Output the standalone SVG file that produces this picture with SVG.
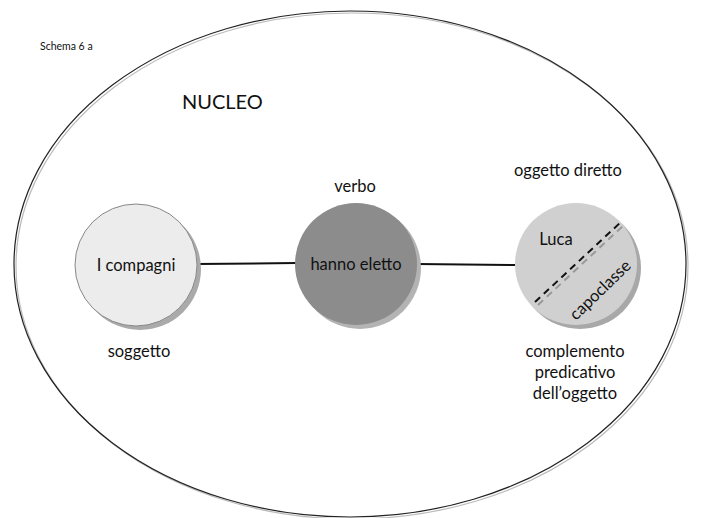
<svg xmlns="http://www.w3.org/2000/svg" width="701" height="518" viewBox="0 0 701 518">
  <style>
    text { font-family: Lato, "Open Sans", "Liberation Sans", sans-serif; fill: #111; }
    .lbl { font-size: 16.5px; text-anchor: middle; }
    .conn { stroke: #111; stroke-width: 2; fill: none; }
  </style>
  <rect width="701" height="518" fill="#fff"/>

  <!-- outer boundary of the nucleus -->
  <g id="nucleo">
    <ellipse cx="352" cy="266" rx="336" ry="253" fill="none" stroke="#bbb" stroke-width="1.2"/>
    <ellipse cx="350" cy="264" rx="336" ry="253" fill="none" stroke="#222" stroke-width="1.2"/>
    <text x="182" y="109" style="font-size:20px">NUCLEO</text>
  </g>

  <text x="40" y="50" style="font-size:10.5px">Schema  6 a</text>

  <!-- connectors -->
  <g id="connectors">
    <line class="conn" x1="197" y1="264" x2="296" y2="263"/>
    <line class="conn" x1="417" y1="264" x2="515" y2="265"/>
  </g>

  <g id="soggetto">
    <circle cx="140" cy="269" r="61" fill="#aaa"/>
    <circle cx="136" cy="265" r="61" fill="#ececec" stroke="#888" stroke-width="1"/>
    <text class="lbl" x="136" y="271">I compagni</text>
    <text class="lbl" x="139" y="357">soggetto</text>
  </g>

  <g id="verbo">
    <circle cx="360" cy="268" r="61" fill="#b3b3b3"/>
    <circle cx="356" cy="264" r="61" fill="#8c8c8c"/>
    <text class="lbl" x="356" y="270">hanno eletto</text>
    <text class="lbl" x="355" y="192">verbo</text>
  </g>

  <g id="oggetto">
    <circle cx="580" cy="268" r="61" fill="#a8a8a8"/>
    <circle cx="576" cy="264" r="61" fill="#d0d0d0"/>
    <line x1="538" y1="305" x2="625" y2="224" stroke="#999" stroke-width="2" stroke-dasharray="7,5"/>
    <line x1="535" y1="302" x2="622" y2="221" stroke="#111" stroke-width="2" stroke-dasharray="7,5"/>
    <text class="lbl" x="556" y="245">Luca</text>
    <text class="lbl" transform="translate(604,294) rotate(-44)">capoclasse</text>
    <text class="lbl" x="568" y="176">oggetto diretto</text>
  </g>

  <g id="predicativo">
    <text class="lbl" x="575" y="357">complemento</text>
    <text class="lbl" x="575" y="378">predicativo</text>
    <text class="lbl" x="575" y="399">dell’oggetto</text>
  </g>
</svg>
